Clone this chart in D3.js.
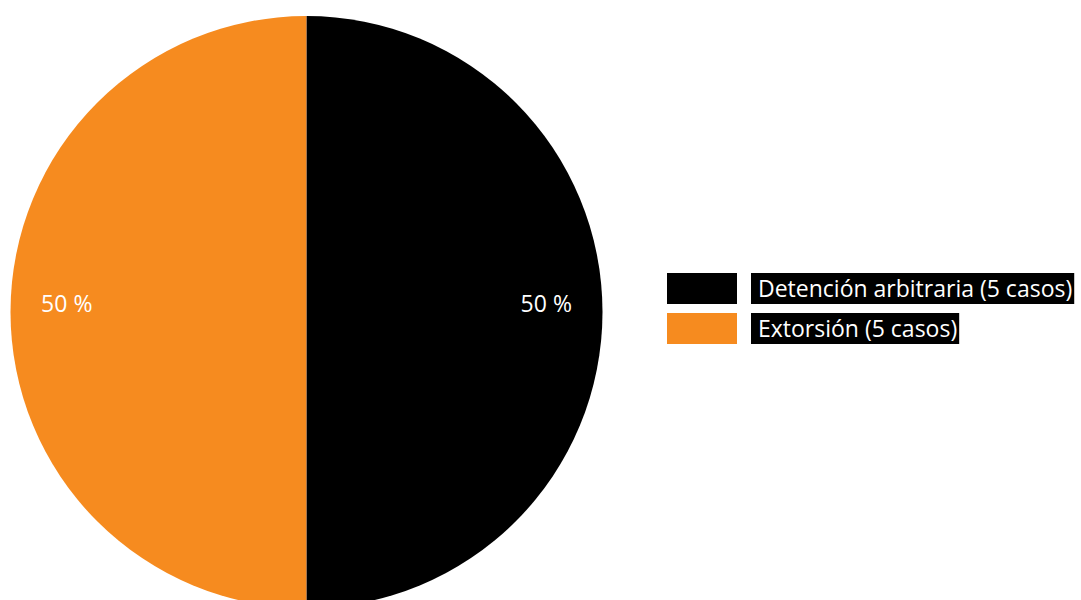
<!DOCTYPE html>
<html><head><meta charset="utf-8">
<script src="https://cdn.jsdelivr.net/npm/d3@7"></script>
<style>body{margin:0;background:#fff}svg{display:block}</style>
</head><body>
<svg id="c" width="1081" height="600"></svg>
<script>
const categories = ["Detención arbitraria (5 casos)", "Extorsión (5 casos)"];
const values = [5, 5];
const labels = ["50 %", "50 %"];
const colors = ["#000000", "#F68B1F"];

const svg = d3.select("#c");
const cx = 306.5, cy = 312, r = 296;
const pie = d3.pie().sort(null).value(d => d)(values);
const arc = d3.arc().innerRadius(0).outerRadius(r);
const g = svg.append("g").attr("transform", `translate(${cx},${cy})`);
g.selectAll("path").data(pie).join("path")
  .attr("d", arc).attr("fill", (d, i) => colors[i]);
g.append("line").attr("x1", 0).attr("x2", 0).attr("y1", -r).attr("y2", r)
  .attr("stroke", "#9a7050").attr("stroke-width", 0.8);
const lab = d3.arc().innerRadius(r * 0.81).outerRadius(r * 0.81);
g.selectAll("text").data(pie).join("text")
  .attr("transform", d => { const c = lab.centroid(d); return `translate(${c[0]},${c[1]})`; })
  .attr("text-anchor", "middle")
  .attr("fill", "#fff").attr("font-family", "Open Sans").attr("font-size", 23)
  .text((d, i) => labels[i]);

const leg = svg.append("g");
categories.forEach((c, i) => {
  const y = 273 + i * 40;
  leg.append("rect").attr("x", 667).attr("y", y).attr("width", 70).attr("height", 31).attr("fill", colors[i]);
  const bg = leg.append("rect").attr("x", 751).attr("y", y).attr("height", 31).attr("fill", "#000");
  const t = leg.append("text").attr("x", 758).attr("y", y + 24)
    .attr("fill", "#fff").attr("font-family", "Open Sans").attr("font-size", 23).text(c);
  const w = t.node().getComputedTextLength();
  bg.attr("width", w + 9);
});
</script>
</body></html>
